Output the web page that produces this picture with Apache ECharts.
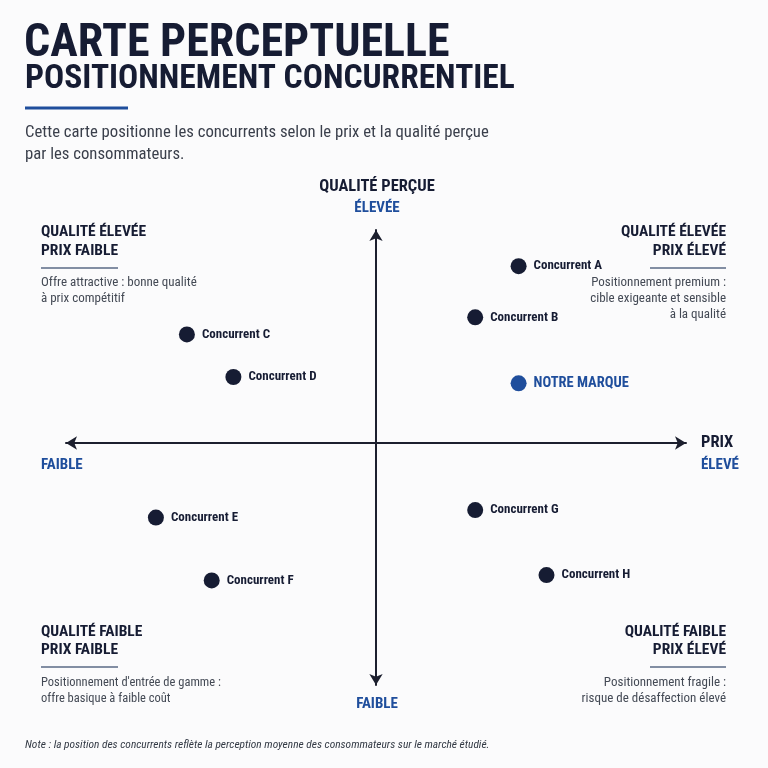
<!DOCTYPE html>
<html><head><meta charset="utf-8">
<script src="https://cdn.jsdelivr.net/npm/echarts@6/dist/echarts.min.js"></script>
<style>html,body{margin:0;padding:0;background:#fbfbfc}#c{width:768px;height:768px}</style>
</head><body><div id="c"></div>
<script>
const competitors = ['Concurrent A','Concurrent B','Concurrent C','Concurrent D','Concurrent E','Concurrent F','Concurrent G','Concurrent H'];
const prix =        [4.6, 3.2, -6.1, -4.6, -7.1, -5.3, 3.2, 5.5];
const qualite =     [8.3, 5.9, 5.1, 3.1, -3.5, -6.45, -3.15, -6.2];
const brandName = ['NOTRE MARQUE'];
const brandPrix = [4.6];
const brandQualite = [2.8];

const F = "'Roboto Condensed','Liberation Sans Narrow','DejaVu Sans Condensed',Roboto,sans-serif";
const DARK = '#161c33', BLUE = '#1f4e9c', GREY = '#444a55';

function t(text, x, y, size, weight, color, align){
  return {type:'text', x:x, y:y, style:{text:text, font:(weight||'normal')+' '+size+'px '+F, fill:color, textAlign:align||'left', align:align||'left', textVerticalAlign:'middle', verticalAlign:'middle'}};
}
function rule(x1,x2,y,color,w){return {type:'line', shape:{x1:x1,y1:y,x2:x2,y2:y}, style:{stroke:color,lineWidth:w}};}

const chart = echarts.init(document.getElementById('c'), null, {renderer:'canvas'});
const graphics = [
  t('CARTE PERCEPTUELLE', 24, 44, 46, 'bold', DARK),
  t('POSITIONNEMENT CONCURRENTIEL', 25, 80, 33.5, 'bold', DARK),
  rule(25,128,108,BLUE,3),
  t('Cette carte positionne les concurrents selon le prix et la qualité perçue', 25, 133, 16.7, 'normal', '#3a3f4b'),
  t('par les consommateurs.', 25, 155, 16.7, 'normal', '#3a3f4b'),
  t('QUALITÉ PERÇUE', 377, 187, 16.5, 'bold', DARK, 'center'),
  t('ÉLEVÉE', 377, 208, 15, 'bold', BLUE, 'center'),
  t('FAIBLE', 377, 704, 15, 'bold', BLUE, 'center'),
  t('FAIBLE', 41, 465, 15, 'bold', BLUE),
  t('PRIX', 701, 443, 16.5, 'bold', DARK),
  t('ÉLEVÉ', 701, 465, 15, 'bold', BLUE),
  t('QUALITÉ ÉLEVÉE', 41, 232, 15.5, 'bold', DARK),
  t('PRIX FAIBLE', 41, 251, 15.5, 'bold', DARK),
  rule(41,118,268,'#5a6a86',1.5),
  t('Offre attractive : bonne qualité', 41, 283, 13, 'normal', GREY),
  t('à prix compétitif', 41, 299, 13, 'normal', GREY),
  t('QUALITÉ ÉLEVÉE', 726, 232, 15.5, 'bold', DARK, 'right'),
  t('PRIX ÉLEVÉ', 726, 251, 15.5, 'bold', DARK, 'right'),
  rule(650,726,268,'#5a6a86',1.5),
  t('Positionnement premium :', 726, 283, 13, 'normal', GREY, 'right'),
  t('cible exigeante et sensible', 726, 299, 13, 'normal', GREY, 'right'),
  t('à la qualité', 726, 315, 13, 'normal', GREY, 'right'),
  t('QUALITÉ FAIBLE', 41, 632, 15.5, 'bold', DARK),
  t('PRIX FAIBLE', 41, 650, 15.5, 'bold', DARK),
  rule(41,118,667,'#5a6a86',1.5),
  t("Positionnement d'entrée de gamme :", 41, 683, 12.5, 'normal', GREY),
  t('offre basique à faible coût', 41, 699, 12.5, 'normal', GREY),
  t('QUALITÉ FAIBLE', 726, 632, 15.5, 'bold', DARK, 'right'),
  t('PRIX ÉLEVÉ', 726, 650, 15.5, 'bold', DARK, 'right'),
  rule(650,726,667,'#5a6a86',1.5),
  t('Positionnement fragile :', 726, 683, 13, 'normal', GREY, 'right'),
  t('risque de désaffection élevé', 726, 699, 13, 'normal', GREY, 'right'),
  t('Note : la position des concurrents reflète la perception moyenne des consommateurs sur le marché étudié.', 25, 745, 11.4, 'italic', '#333a45')
];

const axisCommon = {
  type:'value', axisTick:{show:false}, axisLabel:{show:false}, splitLine:{show:false},
  axisLine:{show:true, onZero:true, symbol:['arrow','arrow'], symbolSize:[10,11], lineStyle:{color:'#1c1f2e', width:2}}
};

chart.setOption({
  backgroundColor:'#fbfbfc',
  animation:false,
  grid:{left:66, right:82, top:230, bottom:83},
  xAxis:Object.assign({min:-10, max:10}, axisCommon),
  yAxis:Object.assign({min:-11.36, max:10}, axisCommon),
  graphic: graphics,
  series:[
    {type:'scatter', symbolSize:16, itemStyle:{color:DARK, opacity:1},
     data: competitors.map((n,i)=>({name:n, value:[prix[i], qualite[i]]})),
     label:{show:true, position:'right', distance:7, formatter:'{b}', color:DARK, fontFamily:F, fontWeight:'bold', fontSize:13}},
    {type:'scatter', symbolSize:16, itemStyle:{color:BLUE, opacity:1},
     data: brandName.map((n,i)=>({name:n, value:[brandPrix[i], brandQualite[i]]})),
     label:{show:true, position:'right', distance:7, formatter:'{b}', color:BLUE, fontFamily:F, fontWeight:'bold', fontSize:14.5}}
  ]
});
</script></body></html>
